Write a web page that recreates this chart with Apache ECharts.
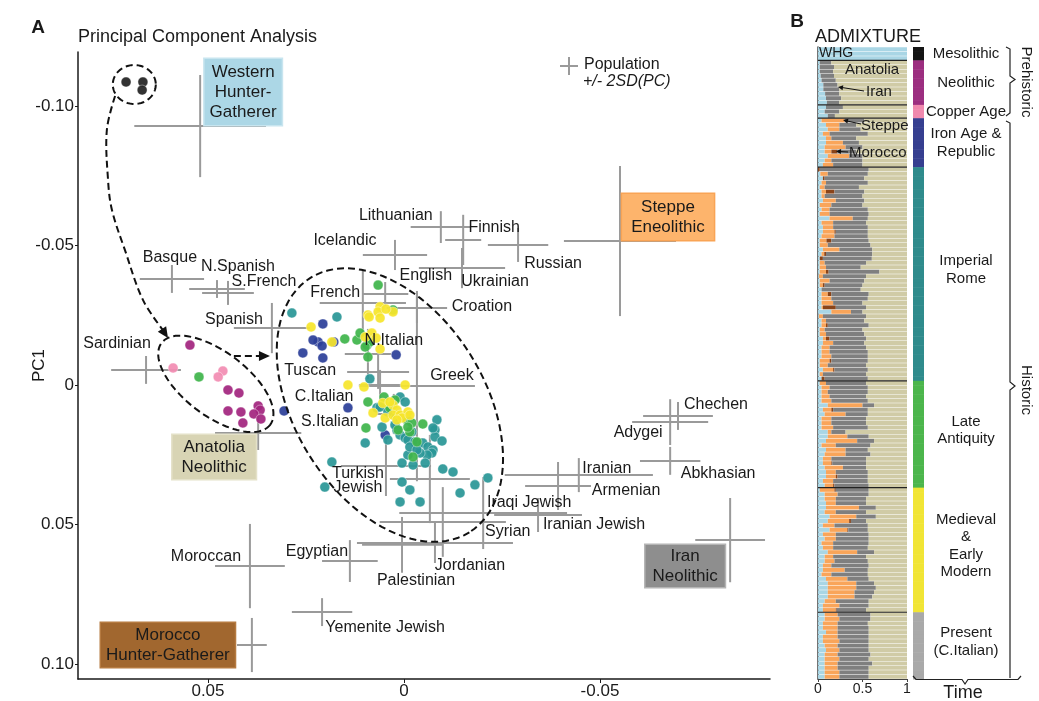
<!DOCTYPE html>
<html>
<head>
<meta charset="utf-8">
<script src="https://cdn.jsdelivr.net/npm/echarts/dist/echarts.min.js"></script>
<style>
html, body { margin: 0; background: #fff; }
#chart { width: 1039px; height: 701px; }
</style>
</head>
<body>
<div id="chart"></div>
<script>
// ---- Panel A: populations (PC2, PC1, 2SD along PC2, 2SD along PC1)
var popNames = ['Western Hunter-Gatherer', 'Steppe Eneolithic', 'Lithuanian', 'Finnish', 'Icelandic', 'Russian',
  'Ukrainian', 'Basque', 'N.Spanish', 'S.French', 'French', 'English', 'Croation', 'Spanish', 'Sardinian',
  'N.Italian', 'Tuscan', 'C.Italian', 'S.Italian', 'Greek', 'Anatolia Neolithic', 'Turkish Jewish', '',
  'Iraqi Jewish', 'Iranian Jewish', 'Syrian', 'Jordanian', 'Palestinian', 'Moroccan', 'Egyptian',
  'Yemenite Jewish', 'Morocco Hunter-Gatherer', 'Iranian', 'Armenian', 'Chechen', 'Adygei', 'Abkhasian',
  'Iran Neolithic'];
var popPC2 = [0.0520, -0.0551, -0.0094, -0.0151, 0.0023, -0.0291, -0.0148, 0.0592, 0.0477, 0.0449, 0.0048,
  0.0105, -0.0033, 0.0337, 0.0658, 0.0092, 0.0066, 0.0061, 0.0026, -0.0033, 0.0372, 0.0046, -0.0066, -0.0202,
  -0.0342, -0.0099, -0.0079, 0.0005, 0.0393, 0.0138, 0.0209, 0.0388, -0.0446, -0.0393, -0.0699, -0.0679,
  -0.0679, -0.0832];
var popPC1 = [-0.0928, -0.0516, -0.0566, -0.0520, -0.0466, -0.0502, -0.0419, -0.0380, -0.0344, -0.0330, -0.0326,
  -0.0294, -0.0276, -0.0204, -0.0054, -0.0111, -0.0047, 0, 0.0104, 0.0004, 0.0172, 0.0290, 0.0337, 0.0459,
  0.0466, 0.0491, 0.0566, 0.0573, 0.0649, 0.0631, 0.0814, 0.0932, 0.0323, 0.0362, 0.0111, 0.0133, 0.0272, 0.0556];
var popSD2 = [0.0168, 0.0143, 0.0077, 0.0046, 0.0082, 0.0077, 0.0110, 0.0082, 0.0071, 0.0066, 0.0059, 0.0110,
  0.0077, 0.0097, 0.0089, 0.0059, 0.0079, 0.0054, 0.0043, 0.0148, 0.0110, 0.0115, 0.0102, 0.0214, 0.0112,
  0.0161, 0.0199, 0.0102, 0.0089, 0.0071, 0.0077, 0.0038, 0.0189, 0.0084, 0.0089, 0.0097, 0.0077, 0.0089];
var popSD1 = [0.0183, 0.0269, 0.0057, 0.0090, 0.0054, 0.0061, 0.0072, 0.0050, 0.0032, 0.0043, 0.0043, 0.0115,
  0.0054, 0.0090, 0.0050, 0.0090, 0.0061, 0.0054, 0.0072, 0.0341, 0.0061, 0.0108, 0.0158, 0.0129, 0.0061,
  0.0125, 0.0072, 0.0100, 0.0151, 0.0075, 0.0050, 0.0097, 0.0061, 0.0086, 0.0050, 0.0082, 0.0050, 0.0151];

// ---- Panel A: ancient individuals [PC2, PC1]
var pcaMesolithic = [[0.0709, -0.1086], [0.0666, -0.1086], [0.0668, -0.1057]];
var pcaNeolithic = [[0.0546, -0.0143], [0.0449, 0.0018], [0.0421, 0.0029], [0.0449, 0.0093], [0.0416, 0.0097],
  [0.0411, 0.0136], [0.0372, 0.0075], [0.0367, 0.0090], [0.0383, 0.0104], [0.0365, 0.0122]];
var pcaCopper = [[0.0589, -0.0061], [0.0462, -0.0050], [0.0474, -0.0029]];
var pcaIron = [[0.0207, -0.0219], [0.0219, -0.0154], [0.0209, -0.0140], [0.0179, -0.0154], [0.0258, -0.0115],
  [0.0207, -0.0097], [0.0020, -0.0108], [0.0143, 0.0082], [0.0306, 0.0093], [0.0048, 0.0179], [0.0232, -0.0161]];
var pcaImperial = [[0.0286, -0.0258], [0.0171, -0.0244], [0.0087, -0.0022], [0.0069, 0.0082], [0.0061, 0.0079],
  [0.0041, 0.0097], [0.0010, 0.0043], [-0.0003, 0.0061], [0.0056, 0.0151], [0.0018, 0.0161], [0.0010, 0.0179],
  [-0.0003, 0.0190], [-0.0010, 0.0197], [-0.0028, 0.0204], [-0.0048, 0.0208], [-0.0061, 0.0222], [-0.0074, 0.0233],
  [-0.0071, 0.0244], [-0.0059, 0.0251], [-0.0041, 0.0244], [-0.0079, 0.0161], [-0.0084, 0.0125], [-0.0079, 0.0186],
  [-0.0097, 0.0201], [0.0099, 0.0208], [0.0184, 0.0276], [0.0005, 0.0280], [-0.0010, 0.0251], [-0.0023, 0.0287],
  [-0.0054, 0.0280], [-0.0099, 0.0301], [-0.0125, 0.0312], [-0.0214, 0.0333], [-0.0181, 0.0358], [-0.0143, 0.0387],
  [0.0005, 0.0348], [-0.0015, 0.0376], [0.0202, 0.0366], [0.0010, 0.0419], [-0.0041, 0.0419], [-0.0074, 0.0154],
  [-0.0015, 0.0222], [-0.0033, 0.0233], [0.0023, 0.0143], [0.0041, 0.0197], [-0.0020, 0.0168]];
var pcaLate = [[0.0066, -0.0358], [0.0028, -0.0269], [0.0151, -0.0165], [0.0120, -0.0161], [0.0094, -0.0143],
  [0.0087, -0.0154], [0.0092, -0.0100], [0.0092, 0.0061], [0.0051, 0.0043], [0.0023, 0.0054], [0.0097, 0.0154],
  [-0.0008, 0.0125], [-0.0020, 0.0136], [-0.0048, 0.0140], [-0.0015, 0.0168], [-0.0033, 0.0204], [-0.0023, 0.0258],
  [0.0015, 0.0161], [0.0036, 0.0082], [0.0020, 0.0115], [0.0099, -0.0136], [-0.0010, 0.0151], [0.0523, -0.0029],
  [0.0112, -0.0186]];
var pcaMedieval = [[0.0237, -0.0208], [0.0061, -0.0280], [0.0066, -0.0262], [0.0092, -0.0251], [0.0061, -0.0240],
  [0.0028, -0.0262], [0.0082, -0.0186], [0.0071, -0.0168], [0.0061, -0.0129], [0.0184, -0.0154], [0.0143, 0],
  [0.0102, 0.0007], [-0.0003, 0], [0.0054, 0.0065], [0.0028, 0.0072], [0.0018, 0.0090], [0.0079, 0.0100],
  [0.0048, 0.0118], [0.0028, 0.0108], [0.0010, 0.0108], [-0.0010, 0.0097], [0.0005, 0.0118], [0.0036, 0.0061],
  [0.0089, -0.0244], [0.0099, -0.0172], [-0.0015, 0.0108], [0.0018, 0.0125], [0.0046, -0.0272]];

// ---- Panel B: admixture per individual [WHG, Steppe, Morocco, Iran]; Anatolia is the rest
var admixMesolithic = [[1, 0, 0, 0], [1, 0, 0, 0], [1, 0, 0, 0]];
var admixNeolithic = [[.02, 0, 0, .13], [.02, 0, 0, .16], [.02, 0, 0, .15], [.03, 0, 0, .15], [.04, 0, 0, .16],
  [.06, 0, 0, .16], [.06, 0, 0, .18], [.08, 0, 0, .16], [.09, 0, 0, .17], [.10, 0, 0, .14]];
var admixCopper = [[.09, 0, 0, .19], [.075, 0, 0, .165], [.11, 0, 0, .08]];
var admixIron = [[.04, .26, 0, .22], [.09, .15, 0, .19], [.11, .13, 0, .24], [.055, .075, 0, .43], [.09, .06, 0, .28],
  [.09, .19, 0, .18], [.075, .235, 0, .19], [.075, .075, .07, .21], [.11, .24, 0, .15], [.075, .075, 0, .35],
  [.055, .115, 0, .33]];
var admixImperial = [[0, 0, .02, .55], [.026, .084, 0, .45], [.055, 0, .02, .445], [.04, .05, 0, .47],
  [.02, .055, 0, .385], [.04, .05, .095, .335], [.04, .035, 0, .425], [.055, .145, 0, .32], [.02, .13, 0, .35],
  [.04, .09, 0, .43], [.02, .11, 0, .44], [.13, .26, 0, .17], [.04, .13, 0, .37], [.055, .115, 0, .39],
  [.055, .13, .015, .36], [.04, .145, 0, .375], [.02, .075, .055, .42], [.02, .09, 0, .48], [.055, .185, 0, .37],
  [.04, .03, .02, .52], [.02, 0, .035, .55], [.02, .055, 0, .465], [.02, .07, 0, .39], [.02, .07, .03, .57],
  [.01, .045, 0, .485], [.02, .11, 0, .39], [.02, .035, .02, .425], [.04, 0, 0, .44], [.04, .07, .04, .42],
  [.04, .11, 0, .41], [.04, .13, 0, .33], [.04, .015, .145, .34], [.15, .22, 0, .13], [.01, .045, 0, .485],
  [.04, .05, 0, .43], [.04, .05, .02, .46], [.02, .055, 0, .425], [.02, .07, 0, .43], [.055, .035, .04, .41],
  [.055, .115, 0, .35], [.04, .09, 0, .41], [.04, .09, 0, .43], [.04, .11, 0, .41], [.02, .11, .02, .41],
  [.02, .09, 0, .43], [.055, .115, .015, .375], [.02, .035, 0, .485], [.04, 0, .035, .485]];
var admixLate = [[.02, .07, 0, .45], [.04, .09, 0, .43], [.04, .07, 0, .45], [.04, .09, 0, .41], [.04, .11, 0, .41],
  [.11, .39, 0, .13], [.055, .095, .02, .39], [.075, .235, 0, .25], [.04, .11, 0, .39], [.04, .11, 0, .39],
  [.04, .13, 0, .39], [.11, .04, 0, .16], [.11, .22, 0, .24], [.09, .35, 0, .19], [.04, .16, 0, .39],
  [.09, .22, 0, .25], [.075, .235, 0, .28], [.055, .095, 0, .39], [.055, .095, .01, .38], [.075, .205, 0, .26],
  [.09, .11, 0, .36], [.09, .11, .02, .34], [.055, .115, 0, .39], [.075, .095, .015, .385]];
var admixMedieval = [[.02, .165, .015, .37], [.075, .145, 0, .35], [.075, .125, 0, .34], [.09, .11, 0, .34],
  [.09, .37, 0, .19], [.075, .125, 0, .34], [.13, .30, 0, .22], [.11, .24, .02, .17], [.055, .13, 0, .375],
  [.13, .20, .01, .22], [.055, .145, 0, .37], [.075, .125, 0, .37], [.04, .13, 0, .40], [.055, .115, 0, .39],
  [.11, .33, 0, .19], [.075, .095, 0, .37], [.075, .11, 0, .375], [.055, .095, 0, .42], [.055, .245, 0, .26],
  [.04, .11, 0, .41], [.09, .24, 0, .24], [.11, .32, 0, .20], [.11, .32, 0, .22], [.11, .30, 0, .22],
  [.11, .30, 0, .20], [.075, .125, 0, .37], [.055, .185, 0, .33], [.055, .145, .01, .33]];
var admixPresent = [[.075, .145, 0, .37], [.075, .165, 0, .35], [.055, .165, 0, .34], [.055, .165, 0, .35],
  [.09, .13, 0, .35], [.055, .165, 0, .35], [.055, .185, 0, .33], [.075, .145, 0, .35], [.09, .15, 0, .33],
  [.075, .145, 0, .37], [.075, .165, 0, .33], [.075, .145, 0, .39], [.075, .145, 0, .35], [.075, .165, 0, .33],
  [.075, .165, 0, .33]];

var periodNames = ['Mesolithic', 'Neolithic', 'Copper Age', 'Iron Age &\nRepublic', 'Imperial\nRome',
  'Late\nAntiquity', 'Medieval\n&\nEarly\nModern', 'Present\n(C.Italian)'];
var admixComponents = ['WHG', 'Steppe', 'Morocco', 'Iran', 'Anatolia'];
var xTicksA = [-0.05, 0, 0.05];
var yTicksA = [-0.10, -0.05, 0, 0.05, 0.10];

// ---- styles / layout
var FONT = '"Liberation Sans", Arial, Helvetica, sans-serif';
var periodColors = ['#151515', '#9c2e80', '#f089ae', '#363f90', '#2f8b8c', '#4cb64c', '#f1e535', '#a9a9a9'];
var pointColors = ['#222222', '#a3267f', '#f28db3', '#2c3f99', '#2a9797', '#3fb54b', '#f6e52c'];
var admixColors = ['#a9d6e5', '#f9a55a', '#8a4419', '#7f7f7f', '#d0cba6'];

var popLayout = {
  'Western Hunter-Gatherer': { dx: 43, dy: -34, text: 'Western\nHunter-\nGatherer', bg: '#acd7e6', bd: '#c8e5ef', pad: [3, 5] },
  'Steppe Eneolithic': { dx: 48, dy: -24, text: 'Steppe\nEneolithic', bg: '#fdb46c', bd: '#f9a455', pad: [3, 9] },
  'Anatolia Neolithic': { dx: -44, dy: 24, text: 'Anatolia\nNeolithic', bg: '#d8d4b4', bd: '#e4e1c8', pad: [2, 9] },
  'Iran Neolithic': { dx: -45, dy: 26, text: 'Iran\nNeolithic', bg: '#8e8e8e', bd: '#b4b4b4', pad: [1, 7] },
  'Morocco Hunter-Gatherer': { dx: -84, dy: 0, text: 'Morocco\nHunter-Gatherer', bg: '#a1672f', bd: '#b57a40', pad: [2, 5] },
  'Lithuanian': { dx: -45, dy: -11 }, 'Finnish': { dx: 31, dy: -12 }, 'Icelandic': { dx: -50, dy: -14 },
  'Russian': { dx: 35, dy: 19 }, 'Ukrainian': { dx: 33, dy: 14 }, 'Basque': { dx: -2, dy: -21 },
  'N.Spanish': { dx: 21, dy: -22 }, 'S.French': { dx: 36, dy: -11 }, 'French': { dx: -50, dy: -1 },
  'English': { dx: 63, dy: -27 }, 'Croation': { dx: 65, dy: -1 }, 'Spanish': { dx: -38, dy: -8 },
  'Sardinian': { dx: -29, dy: -26 }, 'N.Italian': { dx: 26, dy: -13 }, 'Tuscan': { dx: -68, dy: -1 },
  'C.Italian': { dx: -56, dy: 12 }, 'S.Italian': { dx: -64, dy: 8 }, 'Greek': { dx: 35, dy: -11 },
  'Turkish Jewish': { dx: -28, dy: 15, text: 'Turkish\nJewish' }, 'Iraqi Jewish': { dx: 46, dy: -10 },
  'Iranian Jewish': { dx: 56, dy: 10 }, 'Syrian': { dx: 65, dy: 10 }, 'Jordanian': { dx: 35, dy: 23 },
  'Palestinian': { dx: 14, dy: 36 }, 'Moroccan': { dx: -44, dy: -9 }, 'Egyptian': { dx: -33, dy: -9 },
  'Yemenite Jewish': { dx: 63, dy: 15 }, 'Iranian': { dx: 28, dy: -7 }, 'Armenian': { dx: 68, dy: 5 },
  'Chechen': { dx: 38, dy: -11 }, 'Adygei': { dx: -32, dy: 10 }, 'Abkhasian': { dx: 48, dy: 13 }
};

// build table rows for panel B
var admixPeriods = [admixMesolithic, admixNeolithic, admixCopper, admixIron, admixImperial, admixLate, admixMedieval, admixPresent];
var admixRows = [], periodRows = [], bounds = [], n = 0;
admixPeriods.forEach(function (list, p) {
  list.forEach(function (r) {
    var rest = 1 - r[0] - r[1] - r[2] - r[3];
    admixRows.push([n, r[0], r[1], r[2], r[3], rest]);
    periodRows.push([n, p]);
    n++;
  });
  bounds.push(n);
});
var nRows = n;

var popData = popNames.map(function (nm, i) { return [popPC2[i], popPC1[i], popSD2[i], popSD1[i]]; });

function fmtA(v) { return v === 0 ? '0' : v.toFixed(2); }

var option = {
  animation: false,
  textStyle: { fontFamily: FONT },
  grid: [
    { left: 78, top: 52, width: 692, height: 627 },
    { left: 818, top: 47, width: 89, height: 632 },
    { left: 913, top: 47, width: 11, height: 632 }
  ],
  xAxis: [
    { type: 'value', gridIndex: 0, inverse: true, min: -0.09337, max: 0.08316,
      splitLine: { show: false },
      axisLine: { onZero: false, lineStyle: { color: '#1a1a1a', width: 1.5 } },
      axisTick: { length: 4, customValues: xTicksA, lineStyle: { color: '#1a1a1a' } },
      axisLabel: { customValues: xTicksA, formatter: fmtA, fontSize: 17, color: '#1a1a1a', margin: 4, fontFamily: FONT } },
    { type: 'value', gridIndex: 1, min: 0, max: 1, interval: 0.5,
      splitLine: { show: false },
      axisLine: { onZero: false, lineStyle: { color: '#444', width: 1.2 } },
      axisTick: { length: 3, lineStyle: { color: '#444' } },
      axisLabel: { fontSize: 14, color: '#1a1a1a', margin: 3, fontFamily: FONT,
        formatter: function (v) { return v === 0.5 ? '0.5' : String(v); } } },
    { type: 'value', gridIndex: 2, min: 0, max: 1, show: false }
  ],
  yAxis: [
    { type: 'value', gridIndex: 0, inverse: true, min: -0.11935, max: 0.10538,
      name: 'PC1', nameLocation: 'middle', nameGap: 30, nameMoveOverlap: false,
      nameTextStyle: { fontSize: 17, color: '#1a1a1a', fontFamily: FONT },
      splitLine: { show: false },
      axisLine: { show: true, onZero: false, lineStyle: { color: '#1a1a1a', width: 1.5 } },
      axisTick: { show: true, length: 3, customValues: yTicksA, lineStyle: { color: '#1a1a1a' } },
      axisLabel: { customValues: yTicksA, formatter: fmtA, fontSize: 17, color: '#1a1a1a', margin: 4, fontFamily: FONT } },
    { type: 'value', gridIndex: 1, inverse: true, min: 0, max: nRows,
      splitLine: { show: false }, axisTick: { show: false }, axisLabel: { show: false },
      axisLine: { show: true, onZero: false, lineStyle: { color: '#444', width: 1.5 } } },
    { type: 'value', gridIndex: 2, inverse: true, min: 0, max: nRows, show: false }
  ],
  series: [
    { // population crosses
      type: 'custom', xAxisIndex: 0, yAxisIndex: 0, z: 1, data: popData,
      renderItem: function (params, api) {
        var x = api.value(0), y = api.value(1), sx = api.value(2), sy = api.value(3);
        var l = api.coord([x + sx, y]), r = api.coord([x - sx, y]);
        var t = api.coord([x, y - sy]), b = api.coord([x, y + sy]);
        var st = { stroke: '#9a9a9a', lineWidth: 2 };
        return { type: 'group', children: [
          { type: 'line', shape: { x1: l[0], y1: l[1], x2: r[0], y2: r[1] }, style: st },
          { type: 'line', shape: { x1: t[0], y1: t[1], x2: b[0], y2: b[1] }, style: st }
        ] };
      }
    },
    { // population labels
      type: 'custom', xAxisIndex: 0, yAxisIndex: 0, z: 6, data: popData,
      renderItem: function (params, api) {
        var nm = popNames[params.dataIndex];
        var lay = popLayout[nm];
        if (!lay) return null;
        var c = api.coord([api.value(0), api.value(1)]);
        var st = { text: lay.text || nm, fill: '#1a1a1a', fontSize: lay.bg ? 17 : 16, fontFamily: FONT,
          align: 'center', verticalAlign: 'middle', lineHeight: lay.bg ? 20 : 14 };
        if (lay.bg) {
          st.backgroundColor = lay.bg; st.borderColor = lay.bd; st.borderWidth = 1.5; st.padding = lay.pad;
        }
        return { type: 'text', x: c[0] + lay.dx, y: c[1] + lay.dy, style: st };
      }
    }
  ]
};

[pcaMesolithic, pcaNeolithic, pcaCopper, pcaIron, pcaImperial, pcaLate, pcaMedieval].forEach(function (d, k) {
  option.series.push({
    type: 'scatter', xAxisIndex: 0, yAxisIndex: 0, z: 3, data: d, symbolSize: 10,
    itemStyle: { color: pointColors[k], opacity: 0.93, borderColor: 'rgba(255,255,255,0.55)', borderWidth: 0.8 }
  });
});

option.series.push({ // admixture bars
  type: 'custom', xAxisIndex: 1, yAxisIndex: 1, z: 2, data: admixRows,
  renderItem: function (params, api) {
    var i = api.value(0), acc = 0, kids = [];
    for (var k = 0; k < admixComponents.length; k++) {
      var v = api.value(k + 1);
      if (v > 0) {
        var p0 = api.coord([acc, i]), p1 = api.coord([acc + v, i + 1]);
        kids.push({ type: 'rect', shape: { x: p0[0], y: p0[1] + 0.25, width: p1[0] - p0[0], height: p1[1] - p0[1] - 0.5 },
          style: { fill: admixColors[k] } });
      }
      acc += v;
    }
    return { type: 'group', children: kids };
  }
});
option.series.push({ // period separators
  type: 'custom', xAxisIndex: 1, yAxisIndex: 1, z: 4, data: bounds.slice(0, -1).map(function (b) { return [b]; }),
  renderItem: function (params, api) {
    var a = api.coord([0, api.value(0)]), b = api.coord([1, api.value(0)]);
    return { type: 'line', shape: { x1: a[0], y1: a[1], x2: b[0], y2: b[1] }, style: { stroke: '#222', lineWidth: 1.2 } };
  }
});
option.series.push({ // time period bar
  type: 'custom', xAxisIndex: 2, yAxisIndex: 2, z: 2, data: periodRows,
  renderItem: function (params, api) {
    var i = api.value(0), p = api.value(1);
    var p0 = api.coord([0, i]), p1 = api.coord([1, i + 1]);
    return { type: 'rect', shape: { x: p0[0], y: p0[1], width: p1[0] - p0[0], height: p1[1] - p0[1] + 0.5 },
      style: { fill: periodColors[p] } };
  }
});

var chart = echarts.init(document.getElementById('chart'));
chart.setOption(option);

// ---- annotations
function pA(x, y) { return chart.convertToPixel({ xAxisIndex: 0, yAxisIndex: 0 }, [x, y]); }
function pB(y) { return chart.convertToPixel({ xAxisIndex: 2, yAxisIndex: 2 }, [0.5, y]); }
var dash = { fill: null, stroke: '#111', lineWidth: 2, lineDash: [7, 4] };

function ellipse(cx, cy, rx, ry, deg) {
  var c = pA(cx, cy), a = deg * Math.PI / 180, pts = [];
  for (var t = 0; t < 96; t++) {
    var u = t / 96 * Math.PI * 2, ex = rx * Math.cos(u), ey = ry * Math.sin(u);
    pts.push([c[0] + ex * Math.cos(a) - ey * Math.sin(a), c[1] + ex * Math.sin(a) + ey * Math.cos(a)]);
  }
  return { type: 'polygon', z: 20, shape: { points: pts }, style: dash };
}
function head(tip, from, len, wid, color) {
  var dx = tip[0] - from[0], dy = tip[1] - from[1], d = Math.sqrt(dx * dx + dy * dy);
  dx /= d; dy /= d;
  var bx = tip[0] - dx * len, by = tip[1] - dy * len;
  return { type: 'polygon', z: 21, shape: { points: [tip, [bx - dy * wid, by + dx * wid], [bx + dy * wid, by - dx * wid]] },
    style: { fill: color || '#111' } };
}
function txt(x, y, s, size, extra) {
  var st = { text: s, fill: '#1a1a1a', fontSize: size, fontFamily: FONT, align: 'center', verticalAlign: 'middle' };
  for (var k in extra) st[k] = extra[k];
  return { type: 'text', z: 30, x: x, y: y, style: st };
}

var curve = [[0.0737, -0.1036], [0.0758, -0.0914], [0.0755, -0.0735], [0.0745, -0.0627], [0.0712, -0.0484],
  [0.0666, -0.0305], [0.0602, -0.0168]].map(function (q) { return pA(q[0], q[1]); });
var arrA = pA(0.0434, -0.0104), arrB = pA(0.0342, -0.0104);

var g = [
  ellipse(0.0688, -0.1077, 21.5, 19.5, 0),
  ellipse(0.0480, -0.0004, 68, 32, 37),
  ellipse(0.0036, 0.0072, 150, 95, 58),
  { type: 'polyline', z: 20, shape: { points: curve.slice(0, -1).concat([[curve[6][0] - 5, curve[6][1] - 8]]), smooth: 0.35 }, style: dash },
  head(curve[6], curve[5], 11, 5),
  { type: 'line', z: 20, shape: { x1: arrA[0], y1: arrA[1], x2: arrB[0] - 8, y2: arrB[1] }, style: dash },
  head(arrB, arrA, 11, 5),
  // legend
  { type: 'line', z: 20, shape: { x1: 560, y1: 66, x2: 578, y2: 66 }, style: { stroke: '#9a9a9a', lineWidth: 2 } },
  { type: 'line', z: 20, shape: { x1: 569, y1: 57, x2: 569, y2: 75 }, style: { stroke: '#9a9a9a', lineWidth: 2 } },
  txt(584, 65, 'Population', 16, { align: 'left' }),
  txt(583, 82, '+/- 2SD(PC)', 16, { align: 'left', fontStyle: 'italic' }),
  // titles
  txt(38, 28, 'A', 19, { fontWeight: 'bold', fontFamily: '"Liberation Sans Narrow", ' + FONT }),
  txt(78, 37, 'Principal Component Analysis', 18, { align: 'left' }),
  txt(797, 22, 'B', 19, { fontWeight: 'bold', fontFamily: '"Liberation Sans Narrow", ' + FONT }),
  txt(815, 37, 'ADMIXTURE', 18, { align: 'left' }),
  // panel B inner labels
  txt(819, 53, 'WHG', 14, { align: 'left' }),
  txt(872, 70, 'Anatolia', 15),
  txt(866, 92, 'Iran', 15, { align: 'left' }),
  { type: 'line', z: 30, shape: { x1: 864, y1: 91, x2: 842, y2: 87.5 }, style: { stroke: '#111', lineWidth: 1 } },
  head([838, 87], [864, 91], 5, 2.5),
  txt(861, 126, 'Steppe', 15, { align: 'left' }),
  { type: 'line', z: 30, shape: { x1: 861, y1: 124, x2: 847, y2: 121 }, style: { stroke: '#111', lineWidth: 1 } },
  head([843, 120], [861, 124], 5, 2.5),
  txt(849, 153, 'Morocco', 15, { align: 'left' }),
  { type: 'line', z: 30, shape: { x1: 848, y1: 152, x2: 840, y2: 151.5 }, style: { stroke: '#111', lineWidth: 1 } },
  head([836, 151.3], [848, 152], 5, 2.5),
  // braces
  { type: 'polyline', z: 20, shape: { points: [[1006, 47], [1010, 49], [1010, 76], [1015, 79.5], [1010, 83], [1010, 113], [1006, 116]] },
    style: { fill: null, stroke: '#222', lineWidth: 1.2 } },
  { type: 'polyline', z: 20, shape: { points: [[1006, 121], [1010, 123], [1010, 382], [1015, 386], [1010, 390], [1010, 678]] },
    style: { fill: null, stroke: '#222', lineWidth: 1.2 } },
  { type: 'polyline', z: 20, shape: { points: [[913, 676], [916, 679.5], [962, 679.5], [965, 684], [968, 679.5], [1018, 679.5], [1021, 676]] },
    style: { fill: null, stroke: '#222', lineWidth: 1.2 } },
  txt(1026, 82, 'Prehistoric', 15, { }),
  txt(1026, 390, 'Historic', 15, { }),
  txt(963, 693, 'Time', 18)
];
// rotate the two vertical labels
g[g.length - 3].rotation = -Math.PI / 2;
g[g.length - 2].rotation = -Math.PI / 2;

// period labels centred on their rows
var start = 0;
bounds.forEach(function (b, p) {
  var mid = pB((start + b) / 2);
  g.push(txt(966, mid[1] - (p >= 4 ? 4 : 0), periodNames[p], 15, { lineHeight: 17.5 }));
  start = b;
});

chart.setOption({ graphic: g });
</script>
</body>
</html>
